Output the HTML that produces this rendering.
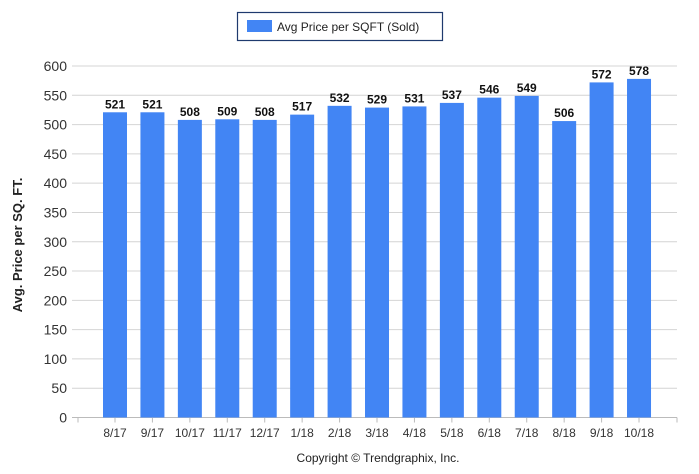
<!DOCTYPE html>
<html><head><meta charset="utf-8"><style>
body{margin:0;background:#fff;width:699px;height:469px;overflow:hidden;font-family:"Liberation Sans",sans-serif}
</style></head><body>
<svg id="chart" width="699" height="469" xmlns="http://www.w3.org/2000/svg" font-family="Liberation Sans, sans-serif">
<g>
<rect x="237.5" y="12.5" width="205" height="28" fill="#fff" stroke="#1f3a6e" stroke-width="1.2"/>
<rect x="247" y="20" width="25" height="12" fill="#4285f4"/>
<text x="277" y="31" font-size="12" fill="#222">Avg Price per SQFT (Sold)</text>
</g>
<text transform="translate(22,245) rotate(-90)" text-anchor="middle" font-size="13" font-weight="bold" fill="#222">Avg. Price per SQ. FT.</text>
<text x="378" y="462" text-anchor="middle" font-size="12" fill="#222">Copyright © Trendgraphix, Inc.</text>
<g id="grid"></g><g id="bars"></g><g id="labels"></g>
</svg>
<script>
const categories=["8/17","9/17","10/17","11/17","12/17","1/18","2/18","3/18","4/18","5/18","6/18","7/18","8/18","9/18","10/18"];
const values=[521,521,508,509,508,517,532,529,531,537,546,549,506,572,578];
const yTicks=[0,50,100,150,200,250,300,350,400,450,500,550,600];
const NS="http://www.w3.org/2000/svg";
const y0=417.5,y600=66;
function yScale(v){return y0-(v/600)*(y0-y600);}
function xScale(i){return 115+i*37.43;}
function mk(t,a,p){const e=document.createElementNS(NS,t);for(const k in a)e.setAttribute(k,a[k]);p.appendChild(e);return e;}
const grid=document.getElementById('grid'),bars=document.getElementById('bars'),labels=document.getElementById('labels');
yTicks.forEach(v=>{
 const y=yScale(v);
 const l=mk('line',{x1:72,x2:677,y1:y,y2:y,stroke:v===0?'#bbb':'#d4d4d4','stroke-width':1},grid);
 
 
 const t=mk('text',{x:67,y:y+5,'text-anchor':'end','font-size':14,fill:'#333'},grid);
 t.textContent=v;
 
 
});
[78,677].forEach(x=>{const tk=mk('line',{x1:x,x2:x,y1:y0,y2:y0+5,stroke:'#bbb'},grid);
 
 });
categories.forEach((c,i)=>{
 const cx=xScale(i),v=values[i],y=yScale(v);
 const r=mk('rect',{x:cx-12,y:y,width:24,height:y0-y,fill:'#4285f4'},bars);
 
 
 const tk=mk('line',{x1:cx,x2:cx,y1:y0,y2:y0+5,stroke:'#bbb'},grid);
 
 
 const t=mk('text',{x:cx,y:y-4,'text-anchor':'middle','font-size':12,'font-weight':'bold',fill:'#111'},labels);
 t.textContent=v;
 
 
 const xl=mk('text',{x:cx,y:437,'text-anchor':'middle','font-size':12,fill:'#333'},labels);
 xl.textContent=c;
 
 
});
</script>
</body></html>
